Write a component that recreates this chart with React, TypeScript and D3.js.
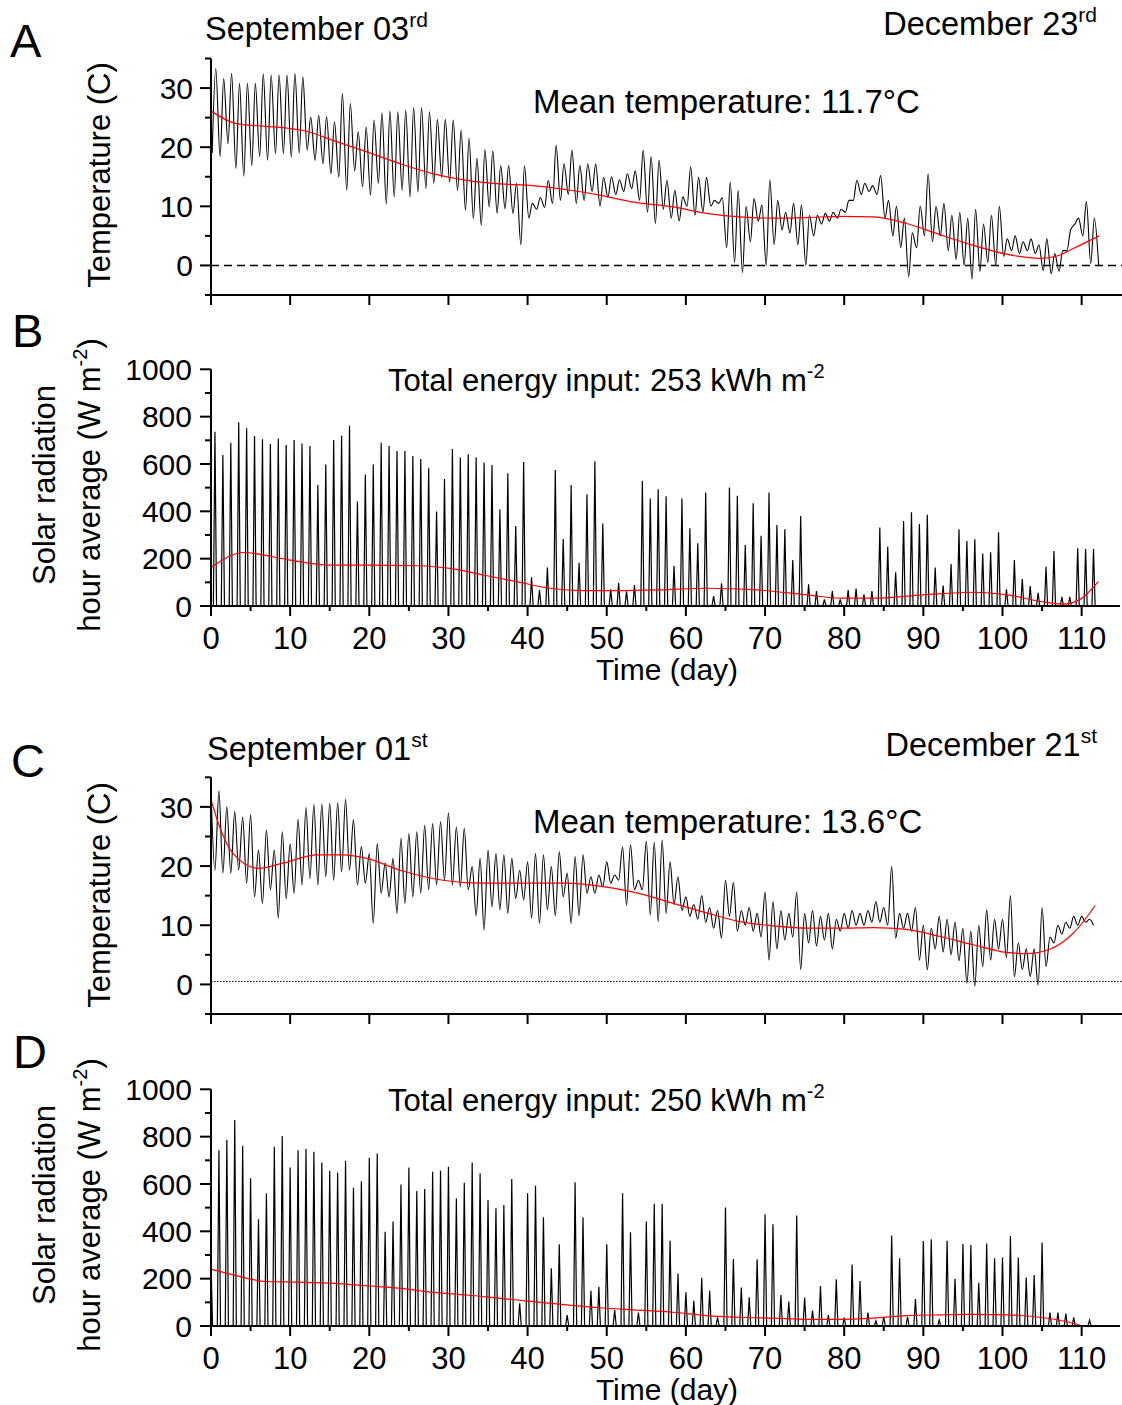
import React from 'react';
import * as d3 from 'd3';

// ---------- DATA ----------
// Panel A: daily minimum / maximum air temperature (°C), day index 0..
const tempAMin = [19.0, 18.4, 20.6, 16.4, 15.1, 16.9, 18.4, 17.8, 18.9, 18.9, 18.3, 19.0, 19.5, 17.8, 17.2, 15.5, 14.9, 12.7, 16.0, 13.3,
  11.9, 13.9, 10.4, 11.6, 12.7, 11.6, 12.4, 13.0, 13.9, 14.9, 14.1, 12.7, 9.3, 7.9, 6.8, 9.9, 8.8, 9.6, 8.8, 3.5,
  8.0, 9.5, 9.8, 10.5, 11.0, 12.0, 10.5, 11.0, 12.5, 10.0, 11.5, 12.0, 12.5, 13.0, 11.0, 9.0, 7.1, 9.5, 8.0, 7.5,
  10.0, 8.5, 9.0, 10.0, 10.5, 3.0, 0.5, -1.2, 4.0, 7.5, 0.0, 3.5, 6.0, 5.5, 3.5, 0.0, 5.0, 7.0, 7.5, 8.0,
  9.0, 11.0, 12.0, 12.5, 12.0, 8.0, 5.0, 3.0, -1.9, 3.0, 5.0, 4.0, 5.0, 2.5, 1.0, 0.0, -2.3, -1.0, 0.5, 0.0,
  1.5, 2.5, 2.0, 2.5, 2.0, -0.9, -1.4, -1.0, 2.5, 7.0, 5.0, 0.3, 0.0];
const tempAMax = [33.3, 31.6, 32.5, 30.8, 30.8, 30.8, 32.4, 32.2, 32.2, 32.2, 32.5, 31.9, 25.1, 25.4, 25.2, 24.3, 29.1, 27.4, 22.6, 23.4,
  24.6, 25.8, 26.1, 26.0, 26.3, 26.7, 26.7, 26.0, 24.7, 24.7, 24.6, 22.9, 21.5, 18.1, 19.6, 19.4, 16.9, 16.9, 13.9, 16.9,
  10.5, 11.5, 14.4, 20.3, 17.2, 19.5, 16.9, 17.2, 17.2, 14.9, 15.0, 14.5, 15.5, 16.0, 19.5, 18.4, 17.8, 14.4, 12.7, 11.6,
  16.7, 14.9, 14.9, 11.0, 11.5, 14.1, 12.7, 10.0, 11.3, 10.2, 14.5, 11.0, 9.0, 10.5, 10.2, 8.5, 8.5, 8.8, 9.0, 9.5,
  11.0, 14.4, 13.9, 13.5, 15.2, 11.0, 10.0, 8.0, 5.5, 10.0, 15.5, 10.0, 10.5, 8.5, 9.0, 8.0, 9.5, 7.0, 8.5, 10.0,
  4.5, 5.0, 4.0, 4.5, 3.5, 4.5, 2.0, 2.5, 6.0, 8.0, 10.8, 8.0];
// Panel A: fitted trend (red)
const trendADays = [0, 3.2, 9.1, 12.1, 15.5, 19.7, 23.9, 28.1, 32.3, 36.5, 40.7, 45, 49.1, 53.4, 58.4, 62.6, 66.8, 71, 75.3, 79.5, 83.7, 87.9, 92.1, 96.3, 100.5, 104.7, 106.9, 109, 112.2];
const trendAVals = [26.1, 24.0, 23.3, 22.7, 21.1, 19.2, 17.2, 15.5, 14.4, 13.8, 13.5, 12.8, 11.9, 10.7, 9.9, 8.8, 8.2, 8.0, 8.1, 8.3, 8.2, 7.1, 5.2, 3.4, 1.9, 1.2, 1.6, 2.9, 5.0];

// Panel B: daily peak of hourly solar radiation (W m-2)
const solarBPeak = [736, 638, 690, 776, 751, 718, 704, 684, 708, 680, 701, 687, 676, 511, 598, 701, 719, 762, 441, 556,
  598, 690, 676, 655, 655, 634, 621, 582, 399, 536, 663, 627, 641, 628, 606, 596, 408, 561, 338, 608,
  121, 67, 163, 575, 283, 511, 183, 472, 612, 349, 70, 98, 62, 88, 529, 454, 493, 464, 170, 454,
  328, 265, 479, 42, 96, 501, 466, 258, 434, 297, 480, 342, 324, 194, 380, 92, 63, 28, 63, 28,
  67, 74, 49, 63, 332, 250, 142, 359, 396, 346, 385, 163, 86, 177, 324, 275, 282, 222, 227, 311,
  70, 194, 114, 84, 56, 166, 232, 39, 39, 244, 241, 241];
const trendBDays = [0, 4.1, 10, 15, 19.7, 26, 30.2, 34.4, 38.6, 42.8, 47, 51.3, 56.7, 62.6, 69, 75.3, 79.5, 83.7, 90, 96.4, 100.6, 104.8, 107.7, 109.8, 112.1];
const trendBVals = [163, 226, 194, 173, 173, 170, 159, 131, 103, 75, 65, 65, 68, 75, 68, 47, 33, 33, 47, 58, 47, 19, 8, 28, 103];

// Panel C: daily maximum / minimum temperature (°C)
const tempCMax = [32.6, 32.7, 30.0, 29.2, 28.3, 28.7, 22.7, 26.1, 22.7, 25.8, 23.7, 27.9, 29.9, 30.4, 30.5, 30.6, 30.7, 31.3, 27.8, 23.3,
  22.1, 23.8, 20.5, 21.3, 24.7, 25.5, 25.8, 26.9, 27.2, 27.5, 29.0, 26.6, 26.4, 19.9, 21.3, 22.7, 22.1, 21.9, 21.3, 19.3,
  20.7, 22.1, 21.9, 19.9, 22.4, 18.8, 21.6, 21.9, 18.2, 18.5, 20.7, 18.5, 23.2, 23.6, 17.6, 24.2, 24.0, 24.4, 20.7, 18.2,
  14.8, 13.5, 15.0, 13.0, 12.5, 17.6, 17.2, 12.5, 13.0, 12.0, 15.6, 14.0, 12.5, 12.0, 15.6, 12.0, 12.5, 11.5, 12.0, 11.0,
  12.0, 12.5, 12.0, 12.5, 14.0, 13.0, 19.9, 12.0, 12.0, 13.0, 10.0, 9.5, 11.5, 11.0, 10.5, 9.5, 9.0, 10.0, 12.6, 11.0,
  11.0, 15.0, 7.0, 6.0, 6.0, 13.0, 8.0, 10.0, 10.5, 11.5, 11.5, 11.0];
const tempCMin = [19.3, 18.8, 18.8, 19.3, 17.1, 14.8, 13.7, 16.0, 11.2, 14.5, 15.4, 16.8, 17.9, 16.8, 18.2, 17.6, 19.0, 19.3, 16.8, 17.1,
  10.3, 15.4, 14.8, 12.0, 13.7, 14.8, 15.4, 16.0, 16.8, 17.6, 16.8, 16.5, 16.0, 11.6, 9.2, 13.1, 12.6, 12.0, 14.5, 14.3,
  11.2, 10.3, 12.6, 11.6, 14.8, 10.3, 11.6, 15.4, 15.4, 16.5, 17.1, 17.6, 13.4, 16.0, 16.0, 11.7, 10.6, 12.0, 13.5, 12.5,
  11.5, 11.0, 10.5, 9.5, 7.8, 11.5, 9.0, 10.0, 9.0, 8.0, 4.1, 6.0, 7.5, 8.0, 2.5, 7.0, 6.5, 7.5, 6.0, 9.0,
  9.5, 10.0, 10.0, 10.5, 10.5, 10.0, 7.8, 9.5, 9.0, 4.1, 2.5, 6.0, 5.5, 5.0, 4.0, 0.2, -0.3, 3.0, 4.1, 6.0,
  4.5, 1.3, 2.5, 1.3, -0.1, 3.0, 7.0, 8.5, 9.5, 10.0, 10.5, 10.0];
const trendCDays = [0, 1.1, 2.8, 6, 9.1, 13.4, 16.7, 19.7, 23.9, 28.1, 32.3, 36.5, 40.7, 45, 49.1, 53.4, 58.4, 62.6, 66.8, 71, 75.3, 79.5, 83.7, 87.9, 92.1, 96.3, 100.5, 103, 105.9, 108.9, 111.7];
const trendCVals = [31.2, 26.6, 22.1, 19.6, 20.5, 21.9, 21.9, 21.3, 19.3, 17.9, 17.2, 17.1, 17.1, 17.1, 16.6, 15.6, 13.7, 12.1, 10.6, 9.9, 9.5, 9.5, 9.6, 9.3, 8.1, 6.7, 5.4, 5.2, 5.9, 8.6, 13.3];

// Panel D: daily peak of hourly solar radiation (W m-2)
const solarDPeak = [272, 743, 786, 870, 762, 624, 451, 561, 757, 803, 670, 743, 748, 736, 691, 656, 649, 698, 584, 612,
  711, 729, 398, 441, 598, 670, 570, 579, 652, 656, 673, 539, 605, 691, 645, 532, 497, 511, 621, 96,
  561, 592, 459, 244, 345, 46, 607, 459, 149, 166, 345, 67, 561, 396, 57, 441, 516, 516, 360, 222,
  142, 107, 204, 149, 37, 501, 283, 163, 121, 282, 472, 430, 131, 103, 467, 120, 65, 169, 46, 197,
  35, 260, 190, 57, 22, 39, 382, 286, 39, 114, 359, 366, 25, 360, 200, 346, 342, 183, 349, 286,
  289, 380, 289, 205, 215, 353, 57, 57, 53, 37, 0, 25];
const trendDDays = [0, 2.8, 7, 11.2, 15.5, 19.7, 23.9, 28.1, 32.3, 36.5, 40.7, 45, 49.1, 53.4, 58.4, 62.6, 66.8, 71, 75.3, 79.5, 83.7, 87.9, 92.1, 96.3, 100.5, 104.7, 108, 110.1];
const trendDVals = [240, 216, 188, 185, 180, 170, 159, 142, 131, 117, 103, 89, 77, 68, 58, 44, 37, 33, 28, 28, 33, 44, 47, 49, 47, 37, 19, 0];

// Axis ticks
const tempTicks = [0, 10, 20, 30];
const tempMinorTicks = [-5, 5, 15, 25, 35];
const solarTicks = [0, 200, 400, 600, 800, 1000];
const solarMinorTicks = [100, 300, 500, 700, 900];
const dayTicks = [0, 10, 20, 30, 40, 50, 60, 70, 80, 90, 100, 110];
const dayMinorTicks = [5, 15, 25, 35, 45, 55, 65, 75, 85, 95, 105];

// ---------- LAYOUT ----------
const FONT = "'Liberation Sans', Arial, Helvetica, sans-serif";
const W = 1122;
const H = 1405;

const x = d3.scaleLinear().domain([0, 115]).range([211, 211 + 115 * 7.915]);
const yA = d3.scaleLinear().domain([-5, 35]).range([295, 58.5]);
const yB = d3.scaleLinear().domain([0, 1000]).range([606, 369.3]);
const yC = d3.scaleLinear().domain([-5, 35]).range([1014, 777.3]);
const yD = d3.scaleLinear().domain([0, 1000]).range([1326, 1089.3]);

type P = [number, number];

function tempPoints(mins: number[], maxs: number[], minPhase: number, maxPhase: number): P[] {
  const pts: P[] = [];
  const n = Math.max(mins.length, maxs.length);
  for (let d = 0; d < n; d++) {
    const a: P[] = [];
    if (d < mins.length) a.push([d + minPhase, mins[d]]);
    if (d < maxs.length) a.push([d + maxPhase, maxs[d]]);
    a.sort((p, q) => p[0] - q[0]);
    pts.push(...a);
  }
  return pts;
}

function solarPoints(peaks: number[], phase: number, half: number): P[] {
  const pts: P[] = [];
  peaks.forEach((v, d) => {
    const c = d + phase;
    pts.push([Math.max(0, c - half), 0], [c, v], [c + half, 0]);
  });
  return pts;
}

function linePath(pts: P[], y: d3.ScaleLinear<number, number>, curve: d3.CurveFactory) {
  return d3.line<P>().x(p => x(p[0])).y(p => y(p[1])).curve(curve)(pts) || '';
}

function zip(a: number[], b: number[]): P[] {
  return a.map((v, i) => [v, b[i]] as P);
}

const AX = 211;

function TempPanel({ y, mins, maxs, minPhase, maxPhase, tDays, tVals, zeroLine, zeroDash, zeroWidth }:
  { y: d3.ScaleLinear<number, number>; mins: number[]; maxs: number[]; minPhase: number; maxPhase: number; tDays: number[]; tVals: number[]; zeroLine: number; zeroDash: string; zeroWidth: number }) {
  const [lo, hi] = y.domain();
  return (
    <g>
      <line x1={AX} x2={W} y1={y(zeroLine)} y2={y(zeroLine)} stroke="#000" strokeWidth={zeroWidth} strokeDasharray={zeroDash} />
      <path d={linePath(tempPoints(mins, maxs, minPhase, maxPhase), y, d3.curveMonotoneX)} fill="none" stroke="#000" strokeWidth={1.1} />
      <path d={linePath(zip(tDays, tVals), y, d3.curveMonotoneX)} fill="none" stroke="#ff0000" strokeWidth={1.2} />
      {/* axes */}
      <line x1={AX} x2={AX} y1={y(hi)} y2={y(lo)} stroke="#000" strokeWidth={2} />
      <line x1={AX - 1} x2={W} y1={y(lo)} y2={y(lo)} stroke="#000" strokeWidth={2} />
      {tempTicks.map(t => (
        <g key={'t' + t}>
          <line x1={AX - 11} x2={AX} y1={y(t)} y2={y(t)} stroke="#000" strokeWidth={2} />
          <text x={193} y={y(t)} dy="0.36em" textAnchor="end" fontSize={30} fontFamily={FONT}>{t}</text>
        </g>
      ))}
      {tempMinorTicks.map(t => (
        <line key={'m' + t} x1={AX - 6} x2={AX} y1={y(t)} y2={y(t)} stroke="#000" strokeWidth={2} />
      ))}
      {dayTicks.map(t => (
        <line key={'d' + t} x1={x(t)} x2={x(t)} y1={y(lo)} y2={y(lo) + 10} stroke="#000" strokeWidth={2} />
      ))}
    </g>
  );
}

function SolarPanel({ y, peaks, phase, tDays, tVals }:
  { y: d3.ScaleLinear<number, number>; peaks: number[]; phase: number; tDays: number[]; tVals: number[] }) {
  const base = y(0);
  return (
    <g>
      <path d={linePath(solarPoints(peaks, phase, 0.2), y, d3.curveLinear)} fill="none" stroke="#000" strokeWidth={1.2} />
      <path d={linePath(zip(tDays, tVals), y, d3.curveMonotoneX)} fill="none" stroke="#ff0000" strokeWidth={1.2} />
      <line x1={AX} x2={AX} y1={y(1000)} y2={base} stroke="#000" strokeWidth={2} />
      <line x1={201} x2={W - 2} y1={base} y2={base} stroke="#000" strokeWidth={2} />
      {solarTicks.map(t => (
        <g key={'s' + t}>
          <line x1={AX - 11} x2={AX} y1={y(t)} y2={y(t)} stroke="#000" strokeWidth={2} />
          <text x={192} y={y(t)} dy="0.36em" textAnchor="end" fontSize={30} fontFamily={FONT}>{t}</text>
        </g>
      ))}
      {solarMinorTicks.map(t => (
        <line key={'sm' + t} x1={AX - 6} x2={AX} y1={y(t)} y2={y(t)} stroke="#000" strokeWidth={2} />
      ))}
      {dayTicks.map(t => (
        <g key={'d' + t}>
          <line x1={x(t)} x2={x(t)} y1={base} y2={base + 10} stroke="#000" strokeWidth={2} />
          <text x={x(t)} y={base + 43} textAnchor="middle" fontSize={31} fontFamily={FONT}>{t}</text>
        </g>
      ))}
      {dayMinorTicks.map(t => (
        <line key={'dm' + t} x1={x(t)} x2={x(t)} y1={base} y2={base + 5} stroke="#000" strokeWidth={2} />
      ))}
      <text x={667} y={base + 74} textAnchor="middle" fontSize={30} fontFamily={FONT}>Time (day)</text>
    </g>
  );
}

export default function App() {
  return (
    <svg width={W} height={H} viewBox={`0 0 ${W} ${H}`} style={{ position: 'absolute', left: 0, top: 0, background: '#fff' }}>
      <rect x={0} y={0} width={W} height={H} fill="#fff" />
      {/* Panel letters */}
      <text x={10} y={57} fontSize={47} fontFamily={FONT}>A</text>
      <text x={12} y={347} fontSize={47} fontFamily={FONT}>B</text>
      <text x={11} y={777} fontSize={47} fontFamily={FONT}>C</text>
      <text x={13} y={1068} fontSize={47} fontFamily={FONT}>D</text>

      {/* Panel A */}
      <text x={205} y={40} fontSize={32.5} fontFamily={FONT}>September 03<tspan fontSize={21} dy={-13}>rd</tspan></text>
      <text x={1097} y={35} fontSize={32.5} fontFamily={FONT} textAnchor="end">December 23<tspan fontSize={21} dy={-13}>rd</tspan></text>
      <text x={533} y={113} fontSize={33} fontFamily={FONT}>Mean temperature: 11.7°C</text>
      <text transform="translate(110,175) rotate(-90)" textAnchor="middle" fontSize={31} fontFamily={FONT}>Temperature (C)</text>
      <TempPanel y={yA} mins={tempAMin} maxs={tempAMax} minPhase={0.15} maxPhase={0.6} tDays={trendADays} tVals={trendAVals} zeroLine={0} zeroDash="8,5" zeroWidth={1.5} />

      {/* Panel B */}
      <text x={388} y={391} fontSize={31} fontFamily={FONT}>Total energy input: 253 kWh m<tspan fontSize={20} dy={-13}>-2</tspan></text>
      <text transform="translate(55,485) rotate(-90)" textAnchor="middle" fontSize={31} fontFamily={FONT}>Solar radiation</text>
      <text transform="translate(100,485) rotate(-90)" textAnchor="middle" fontSize={31} fontFamily={FONT}>hour average (W m<tspan fontSize={20} dy={-13}>-2</tspan><tspan dy={13}>)</tspan></text>
      <SolarPanel y={yB} peaks={solarBPeak} phase={0.5} tDays={trendBDays} tVals={trendBVals} />

      {/* Panel C */}
      <text x={207} y={760} fontSize={32.5} fontFamily={FONT}>September 01<tspan fontSize={21} dy={-13}>st</tspan></text>
      <text x={1097} y={756} fontSize={32.5} fontFamily={FONT} textAnchor="end">December 21<tspan fontSize={21} dy={-13}>st</tspan></text>
      <text x={533} y={833} fontSize={33} fontFamily={FONT}>Mean temperature: 13.6°C</text>
      <text transform="translate(110,895) rotate(-90)" textAnchor="middle" fontSize={31} fontFamily={FONT}>Temperature (C)</text>
      <TempPanel y={yC} mins={tempCMin} maxs={tempCMax} minPhase={0.5} maxPhase={0} tDays={trendCDays} tVals={trendCVals} zeroLine={0.5} zeroDash="1.5,1.5" zeroWidth={1} />

      {/* Panel D */}
      <text x={388} y={1111} fontSize={31} fontFamily={FONT}>Total energy input: 250 kWh m<tspan fontSize={20} dy={-13}>-2</tspan></text>
      <text transform="translate(55,1205) rotate(-90)" textAnchor="middle" fontSize={31} fontFamily={FONT}>Solar radiation</text>
      <text transform="translate(100,1205) rotate(-90)" textAnchor="middle" fontSize={31} fontFamily={FONT}>hour average (W m<tspan fontSize={20} dy={-13}>-2</tspan><tspan dy={13}>)</tspan></text>
      <SolarPanel y={yD} peaks={solarDPeak} phase={0} tDays={trendDDays} tVals={trendDVals} />
    </svg>
  );
}
